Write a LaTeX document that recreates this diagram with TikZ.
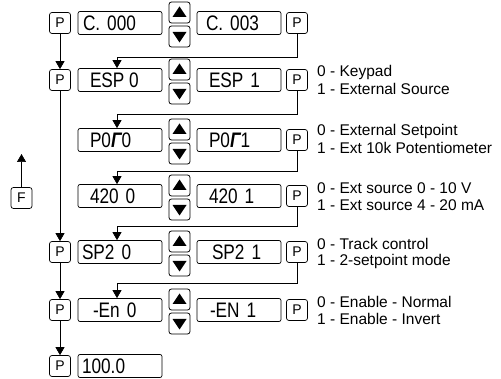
\documentclass[tikz,border=0pt]{standalone}
\usepackage{fontspec}
\setmainfont{Liberation Sans}
\newfontfamily\lcd[FakeStretch=0.82]{Liberation Sans}
\usetikzlibrary{arrows.meta}
\newcommand\dtxt[2]{\hbox to 84pt{\hskip#1pt #2\hfil}}
\newcommand\gam{{\bfseries\itshape Γ}}
\begin{document}
\begin{tikzpicture}[x=1pt,y=-1pt,
 pkey/.style={draw, line width=0.7pt, rounded corners=2.5pt, minimum width=21pt, minimum height=21pt, inner sep=0pt, font=\fontsize{14}{14}\selectfont},
 disp/.style={draw, line width=0.7pt, rounded corners=2pt, minimum width=84pt, minimum height=23pt, inner sep=0pt, font=\lcd\fontsize{21}{21}\selectfont},
 btn/.style={draw, line width=0.8pt, rounded corners=2.5pt, minimum width=21pt, minimum height=21pt, inner sep=0pt},
 lbl/.style={anchor=west, inner sep=0pt, font=\fontsize{15.5}{15.5}\selectfont},
 arr/.style={line width=0.7pt, -{Triangle[width=9pt,length=8pt]}},
 conn/.style={line width=0.7pt},
]
\useasboundingbox (0,0) rectangle (501,379);
\newcommand\updown[2]{%
 \node[btn] (#1u) at (179.5,#2-10.5) {};
 \node[btn] (#1d) at (179.5,#2+13.5) {};
 \fill ([shift={(-7,4.5)}]#1u.center) -- ([shift={(7,4.5)}]#1u.center) -- ([shift={(0,-6)}]#1u.center) -- cycle;
 \fill ([shift={(-7,-4.5)}]#1d.center) -- ([shift={(7,-4.5)}]#1d.center) -- ([shift={(0,6)}]#1d.center) -- cycle;
}
% Row 1
\node[pkey] (p1l) at (60,23) {P};
\node[disp] (d1l) at (120,23) {\dtxt{5}{C.\hspace{7pt}000}};
\updown{b1}{23}
\node[disp] (d1r) at (239,23) {\dtxt{9}{C.\hspace{7pt}003}};
\node[pkey] (p1r) at (297,23) {P};
% Row 2
\node[pkey] (p2l) at (60,80) {P};
\node[disp] (d2l) at (120,80) {\dtxt{12}{ESP 0}};
\updown{b2}{80}
\node[disp] (d2r) at (239,80) {\dtxt{12}{ESP\hspace{7pt}1}};
\node[pkey] (p2r) at (297,80) {P};
\node[lbl] (l2a) at (317,72) {0 - Keypad};
\node[lbl] (l2b) at (317,89) {1 - External Source};
% Row 3
\node[disp] (d3l) at (120,140) {\dtxt{12}{P0\gam0}};
\updown{b3}{140}
\node[disp] (d3r) at (239,140) {\dtxt{12}{P0\gam1}};
\node[pkey] (p3r) at (297,140) {P};
\node[lbl] (l3a) at (317,131) {0 - External Setpoint};
\node[lbl] (l3b) at (317,148) {1 - Ext 10k Potentiometer};
% Row 4
\node[disp] (d4l) at (120,196) {\dtxt{12}{420\hspace{7pt}0}};
\updown{b4}{196}
\node[disp] (d4r) at (239,196) {\dtxt{12}{420\hspace{7pt}1}};
\node[pkey] (p4r) at (297,196) {P};
\node[lbl] (l4a) at (317,188) {0 - Ext source 0 - 10 V};
\node[lbl] (l4b) at (317,205) {1 - Ext source 4 - 20 mA};
% Row 5
\node[pkey] (p5l) at (60,252) {P};
\node[disp] (d5l) at (120,252) {\dtxt{4}{SP2\hspace{7pt}0}};
\updown{b5}{252}
\node[disp] (d5r) at (239,252) {\dtxt{15}{SP2\hspace{7pt}1}};
\node[pkey] (p5r) at (297,252) {P};
\node[lbl] (l5a) at (317,244) {0 - Track control};
\node[lbl] (l5b) at (317,261) {1 - 2-setpoint mode};
% Row 6
\node[pkey] (p6l) at (60,310) {P};
\node[disp] (d6l) at (120,310) {\dtxt{15}{-En\hspace{7pt}0}};
\updown{b6}{310}
\node[disp] (d6r) at (239,310) {\dtxt{13}{-EN\hspace{7pt}1}};
\node[pkey] (p6r) at (297,310) {P};
\node[lbl] (l6a) at (317,302) {0 - Enable - Normal};
\node[lbl] (l6b) at (317,319) {1 - Enable - Invert};
% Row 7
\node[pkey] (p7l) at (60,366) {P};
\node[disp] (d7l) at (120,366) {\dtxt{4}{100.0}};
% F key
\node[pkey] (f) at (21.5,198) {F};
\coordinate (ftop) at (21.5,154);
\draw[arr] (f.north) -- (ftop);
% left flow
\draw[arr] (p1l.south) -- (p2l.north);
\draw[arr] (p2l.south) -- (p5l.north);
\draw[arr] (p5l.south) -- (p6l.north);
\draw[arr] (p6l.south) -- (p7l.north);
% right returns
\coordinate (k1) at (117,57);
\coordinate (k2) at (117,114);
\coordinate (k3) at (117,171);
\coordinate (k4) at (117,226);
\coordinate (k5) at (117,283);
\draw[arr] (p1r.south) |- (k1) -- (k1 |- d2l.north);
\draw[arr] (p2r.south) |- (k2) -- (k2 |- d3l.north);
\draw[arr] (p3r.south) |- (k3) -- (k3 |- d4l.north);
\draw[arr] (p4r.south) |- (k4) -- (k4 |- d5l.north);
\draw[arr] (p5r.south) |- (k5) -- (k5 |- d6l.north);
\end{tikzpicture}
\end{document}
